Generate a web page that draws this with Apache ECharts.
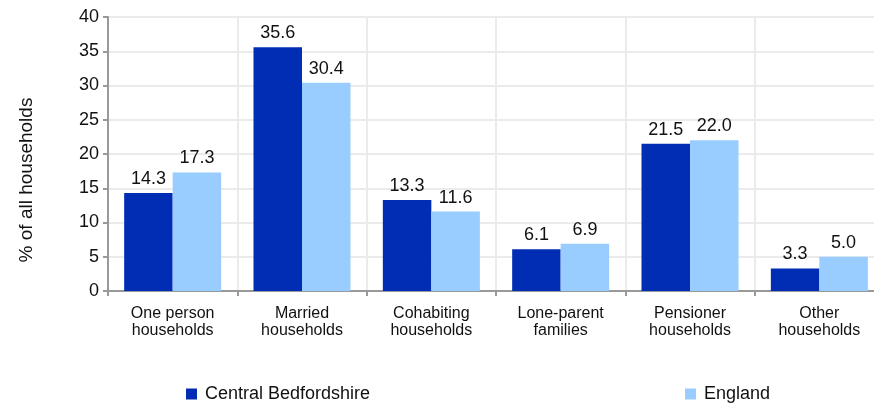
<!DOCTYPE html>
<html>
<head>
<meta charset="utf-8">
<script src="https://cdn.jsdelivr.net/npm/echarts@6/dist/echarts.min.js"></script>
<style>
  html, body { margin: 0; padding: 0; background: #fff; }
  #chart { width: 874px; height: 404px; }
</style>
</head>
<body>
<div id="chart"></div>
<script>
// household type categories
const categories = [
  "One person\nhouseholds",
  "Married\nhouseholds",
  "Cohabiting\nhouseholds",
  "Lone-parent\nfamilies",
  "Pensioner\nhouseholds",
  "Other\nhouseholds"
];
// % of all households
const centralBedfordshire = [14.3, 35.6, 13.3, 6.1, 21.5, 3.3];
const england = [17.3, 30.4, 11.6, 6.9, 22.0, 5.0];

const font = "Liberation Sans, Arial, sans-serif";
const chart = echarts.init(document.getElementById("chart"));

const labelStyle = {
  show: true,
  position: "top",
  distance: 5,
  color: "#111",
  fontSize: 18,
  fontFamily: font,
  formatter: (p) => p.value.toFixed(1)
};

const option = {
  animation: false,
  textStyle: { fontFamily: font },
  // plot runs past the right edge of the picture, as in the original
  grid: { left: 108, width: 776, top: 17, bottom: 113, outerBoundsMode: "none" },
  legend: [
    {
      data: ["Central Bedfordshire"],
      left: 181, top: 380,
      icon: "rect", itemWidth: 11, itemHeight: 11,
      textStyle: { fontSize: 18, color: "#111", fontFamily: font, padding: [0, 0, 0, 3] }
    },
    {
      data: ["England"],
      left: 680, top: 380,
      icon: "rect", itemWidth: 11, itemHeight: 11,
      textStyle: { fontSize: 18, color: "#111", fontFamily: font, padding: [0, 0, 0, 3] }
    }
  ],
  xAxis: {
    type: "category",
    data: categories,
    axisLine: { lineStyle: { color: "#999", width: 2 } },
    axisTick: { show: true, length: 5, lineStyle: { color: "#999", width: 2 } },
    splitLine: { show: true, lineStyle: { color: "#ebebeb", width: 2 } },
    axisLabel: { interval: 0, margin: 14, fontSize: 16, lineHeight: 17, color: "#111", fontFamily: font }
  },
  yAxis: {
    type: "value",
    min: 0, max: 40, interval: 5,
    name: "% of all households",
    nameLocation: "middle",
    nameGap: 72,
    nameTextStyle: { fontSize: 19, color: "#111", fontFamily: font, padding: [0, 52, 0, 0] },
    axisLine: { show: true, lineStyle: { color: "#999", width: 2 } },
    axisTick: { show: true, length: 5, lineStyle: { color: "#999", width: 2 } },
    splitLine: { lineStyle: { color: "#ebebeb", width: 2 } },
    axisLabel: { margin: 9, fontSize: 18, color: "#111", fontFamily: font }
  },
  series: [
    {
      name: "Central Bedfordshire",
      type: "bar",
      data: centralBedfordshire,
      itemStyle: { color: "#002db3" },
      barGap: "0%",
      barCategoryGap: "25%",
      label: labelStyle
    },
    {
      name: "England",
      type: "bar",
      data: england,
      itemStyle: { color: "#99ccff" },
      label: labelStyle
    }
  ]
};

chart.setOption(option);
</script>
</body>
</html>
